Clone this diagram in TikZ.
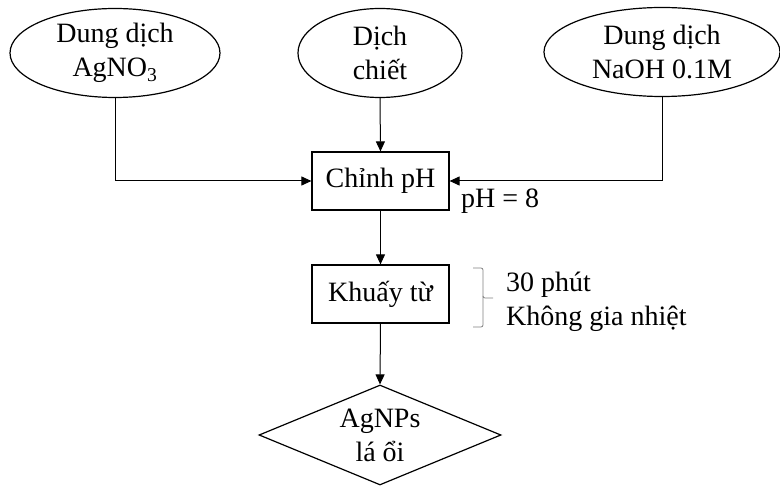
\documentclass[tikz,border=0pt]{standalone}
\usepackage{fontspec}
\setmainfont{Liberation Serif}
\usetikzlibrary{shapes.geometric,arrows.meta}

\tikzset{
	txt/.style={font=\fontsize{28}{34}\selectfont, align=center, inner sep=0pt},
	source/.style={txt, draw, ellipse, line width=1.2pt, minimum height=89pt},
	stepbox/.style={txt, draw, rectangle, line width=1.2pt, minimum width=137pt, minimum height=58pt},
	product/.style={txt, draw, diamond, aspect=2.4, line width=1.2pt, minimum width=242pt, minimum height=100pt},
	arr/.style={line width=1pt, -{Triangle[length=10pt,width=9pt]}}
}

\begin{document}
\begin{tikzpicture}[x=1pt, y=-1pt]
	\useasboundingbox (0,0) rectangle (780,486);

	\node[source, minimum width=210pt] (agno) at (115,53) {Dung dịch\\AgNO\textsubscript{3}};
	\node[source, minimum width=164pt] (chiet) at (380,53) {Dịch\\chiết};
	\node[source, minimum width=236pt] (naoh) at (662,52) {Dung dịch\\NaOH 0.1M};

	\node[stepbox] (chinh) at (380.5,181) {Chỉnh pH};
	\node[stepbox] (khuay) at (380.5,294) {Khuấy từ};
	\node[product] (agnp) at (380,435) {AgNPs\\lá ổi};

	\draw[arr] (agno.south) |- (chinh.west);
	\draw[arr] (chiet.south) -- (chinh.north);
	\draw[arr] (naoh.south) |- (chinh.east);
	\draw[arr] (chinh.south) -- (khuay.north);
	\draw[arr] (khuay.south) -- (agnp.north);

	\node[txt, anchor=base west] (ph) at (461,208) {pH = 8};

	\draw[gray, line width=0.8pt, rounded corners=2pt] (473,268) -| (483,298) -- (493,298);
	\draw[gray, line width=0.8pt, rounded corners=2pt] (483,296) |- (473,327);
	\node[txt, anchor=base west] (time) at (506,292) {30 phút};
	\node[txt, anchor=base west] (heat) at (506,326) {Không gia nhiệt};
\end{tikzpicture}
\end{document}
